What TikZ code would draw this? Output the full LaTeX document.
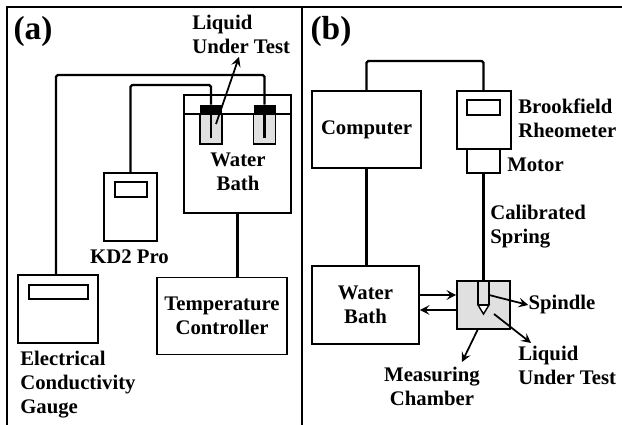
\documentclass[tikz,border=0pt]{standalone}
\usepackage{fontspec}
\setmainfont{Liberation Serif}
\usetikzlibrary{arrows.meta}
\tikzset{
    box/.style 2 args={draw,line width=0.9pt,inner sep=0pt,align=center,minimum width=#1*0.02cm,minimum height=#2*0.02cm},
    wire/.style={line width=1.3pt,rounded corners=1pt},
    arrow/.style={-{Stealth[length=5.5pt,width=5.5pt,inset=2.2pt]},line width=1pt},
    tag/.style={font=\bfseries\fontsize{11.8}{13.5}\selectfont,align=left,inner sep=0pt},
    vial/.style={draw,line width=0.7pt,fill=black!12,inner sep=0pt,minimum width=0.44cm,minimum height=0.6cm},
    vialcap/.style={fill=black,inner sep=0pt,minimum width=0.44cm,minimum height=0.18cm}
}
\begin{document}
\begin{tikzpicture}[x=0.02cm,y=-0.02cm]
    \useasboundingbox (0,0) rectangle (622,425);
    \draw [line width=0.9pt] (7,425) -- (7,7) -- (622,7);
    \draw [line width=0.9pt] (302,7) -- (302,425);
    \node [tag,font=\bfseries\fontsize{19}{20}\selectfont] (labela) at (33,31) {(a)};
    \node [tag,font=\bfseries\fontsize{19}{20}\selectfont] (labelb) at (331,31) {(b)};
    % panel a
    \node [box={107}{118}] (bath) at (237.5,154) {};
    \draw [line width=0.9pt] (bath.west |- 0,114) -- (bath.east |- 0,114);
    \node [vial] (vialone) at (211,129) {};
    \node [vial] (vialtwo) at (264.5,129) {};
    \node [vialcap] (capone) at (211,109.5) {};
    \node [vialcap] (captwo) at (264.5,109.5) {};
    \coordinate (rodone) at (211,138);
    \coordinate (rodtwo) at (264.5,138);
    \draw [wire] (capone.center) -- (rodone);
    \draw [wire] (captwo.center) -- (rodtwo);
    \node [tag,align=center] (bathtext) at (238,172) {Water\\Bath};
    \node [box={53}{68}] (kdpro) at (130.5,207) {};
    \node [box={32}{15}] (kdscreen) at (131,189.5) {};
    \node [tag] (kdtext) at (129.5,257) {KD2 Pro};
    \node [box={80}{68}] (gauge) at (58,309) {};
    \node [box={59}{14}] (gaugescreen) at (58.5,292) {};
    \node [tag,anchor=north west] (gaugetext) at (20,351) {Electrical\\Conductivity\\Gauge};
    \node [box={130}{77},font=\bfseries\fontsize{11.8}{13.5}\selectfont] (controller) at (222,316) {Temperature\\Controller};
    \coordinate (wirekd) at (211,85);
    \coordinate (wiregauge) at (264.5,75);
    \draw [wire] (capone.north) -- (wirekd) -| (kdpro.north);
    \draw [wire] (captwo.north) -- (wiregauge) -| (gauge.north -| 56,0);
    \draw [wire] (bath.south) -- (controller.north -| bath.south);
    \coordinate (liquidtip) at (239,57);
    \coordinate (liquidtail) at (216,124);
    \draw [arrow] (liquidtail) -- (liquidtip);
    \node [tag,anchor=north west] (liquidtext) at (192,15) {Liquid\\Under Test};
    % panel b
    \node [box={109}{77},font=\bfseries\fontsize{11.8}{13.5}\selectfont] (computer) at (366.5,129.5) {Computer};
    \node [box={54}{58}] (rheometer) at (484,120) {};
    \node [box={33}{15}] (rheoscreen) at (483.5,107.5) {};
    \node [box={33}{24}] (motor) at (483.5,161) {};
    \node [tag,anchor=north west] (rheotext) at (518,99) {Brookfield\\Rheometer};
    \node [tag] (motortext) at (535.5,165) {Motor};
    \node [tag,anchor=north west] (springtext) at (490,205) {Calibrated\\Spring};
    \node [box={107}{78},font=\bfseries\fontsize{11.8}{13.5}\selectfont] (waterbath) at (365.5,305) {Water\\Bath};
    \node [box={53}{48},fill=black!12] (chamber) at (483.5,305) {};
    \coordinate (wiretop) at (366.5,61);
    \draw [wire] (computer.north) -- (wiretop) -| (rheometer.north -| motor.north);
    \draw [wire] (computer.south) -- (waterbath.north -| computer.south);
    \draw [wire] (motor.south) -- (chamber.north);
    \draw [line width=0.8pt,fill=white] (478,305) -- (489,305) -- (483.5,314) -- cycle;
    \draw [line width=0.8pt] (478,281) -- (478,305);
    \draw [line width=0.8pt] (489,281) -- (489,305);
    \draw [line width=1.1pt] (478,305) -- (489,305);
    \draw [arrow] (waterbath.east |- 0,295) -- (chamber.west |- 0,295);
    \draw [arrow] (chamber.west |- 0,310) -- (waterbath.east |- 0,310);
    \coordinate (spindletail) at (489,295);
    \coordinate (liquidbtail) at (494,314);
    \coordinate (chambertail) at (478,329);
    \node [tag] (spindletext) at (562,305) {Spindle};
    \node [tag,anchor=north west] (liquidbtext) at (518,346) {Liquid\\Under Test};
    \node [tag,align=center] (chambertext) at (432,386.5) {Measuring\\Chamber};
    \draw [arrow] (spindletail) -- (spindletext.west);
    \draw [arrow] (liquidbtail) -- (531,343);
    \draw [arrow] (chambertail) -- (462,362);
\end{tikzpicture}
\end{document}
